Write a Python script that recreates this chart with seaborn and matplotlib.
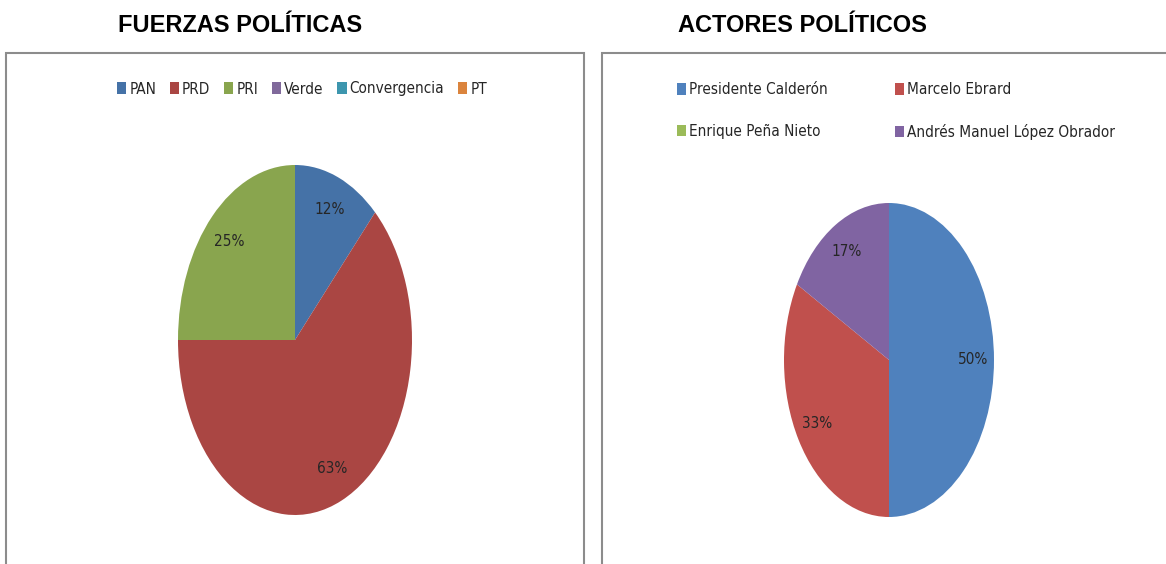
import matplotlib
matplotlib.use("Agg")
import matplotlib.pyplot as plt
from matplotlib import font_manager as fm
from matplotlib.patches import Rectangle
import seaborn as sns

# ---- data ----
left_title = "FUERZAS POLÍTICAS"
left_labels = ["PAN", "PRD", "PRI", "Verde", "Convergencia", "PT"]
left_values = [12, 63, 25, 0, 0, 0]
left_colors = ["#4572A7", "#AA4643", "#89A54E", "#80699B", "#3D96AE", "#DB843D"]

right_title = "ACTORES POLÍTICOS"
right_labels = ["Presidente Calderón", "Marcelo Ebrard", "Enrique Peña Nieto",
                "Andrés Manuel López Obrador"]
right_values = [50, 33, 0, 17]
right_colors = ["#4F81BD", "#C0504D", "#9BBB59", "#8064A2"]

sns.set_theme(style="white")
plt.rcParams["font.family"] = ["Liberation Sans", "DejaVu Sans"]

names = {f.name for f in fm.fontManager.ttflist}
if "Liberation Sans Narrow" in names:
    narrow = fm.FontProperties(family="Liberation Sans Narrow", size=12)
else:
    narrow = fm.FontProperties(family="DejaVu Sans", stretch="condensed", size=11)

TEXT = "#262626"
W, H = 1166, 564
fig = plt.figure(figsize=(W / 100, H / 100), dpi=100)
fig.patch.set_facecolor("white")


def fx(px):
    return px / W


def fy(py):
    return 1 - py / H


# frames
for (x0, x1) in [(6, 584), (602, 1200)]:
    fig.patches.append(Rectangle((fx(x0), fy(620)), fx(x1 - x0), (620 - 53) / H,
                                 transform=fig.transFigure, fill=False,
                                 edgecolor="#8C8C8C", linewidth=1.5))

# titles
fig.text(fx(240), fy(25), left_title, ha="center", va="center",
         fontsize=17, fontweight="bold", color="black", family="Liberation Sans")
fig.text(fx(802), fy(25), right_title, ha="center", va="center",
         fontsize=17, fontweight="bold", color="black", family="Liberation Sans")


def pct(v):
    return "" if v < 0.5 else f"{v:.0f}%"


def draw_pie(box, values, colors):
    l, t, r, b = box
    ax = fig.add_axes([fx(l), fy(b), fx(r - l), (b - t) / H])
    wedges, _, autotexts = ax.pie(values, colors=sns.color_palette(colors),
                                  startangle=90, counterclock=False, radius=1,
                                  autopct=pct, pctdistance=0.8,
                                  wedgeprops=dict(linewidth=0))
    for tx in autotexts:
        tx.set_fontproperties(narrow)
        tx.set_color(TEXT)
    ax.set_aspect("auto")
    ax.set_xlim(-1, 1)
    ax.set_ylim(-1, 1)
    ax.axis("off")
    return wedges


lw = draw_pie((178, 165, 412, 515), left_values, left_colors)
rw = draw_pie((784, 203, 994, 517), right_values, right_colors)

leg1 = fig.legend(lw, left_labels, loc="center", bbox_to_anchor=(fx(302), fy(89)),
                  ncol=6, frameon=False, prop=narrow, handlelength=0.6,
                  handleheight=0.78, handletextpad=0.2, columnspacing=0.9,
                  borderpad=0, labelcolor=TEXT)

order = [0, 2, 1, 3]
leg2 = fig.legend([rw[i] for i in order], [right_labels[i] for i in order],
                  loc="center", bbox_to_anchor=(fx(896), fy(111)), ncol=2,
                  frameon=False, prop=narrow, handlelength=0.6, handleheight=0.78,
                  handletextpad=0.2, columnspacing=4.4, labelspacing=1.73,
                  borderpad=0, labelcolor=TEXT)

fig.savefig("out.png", dpi=100, facecolor="white")
